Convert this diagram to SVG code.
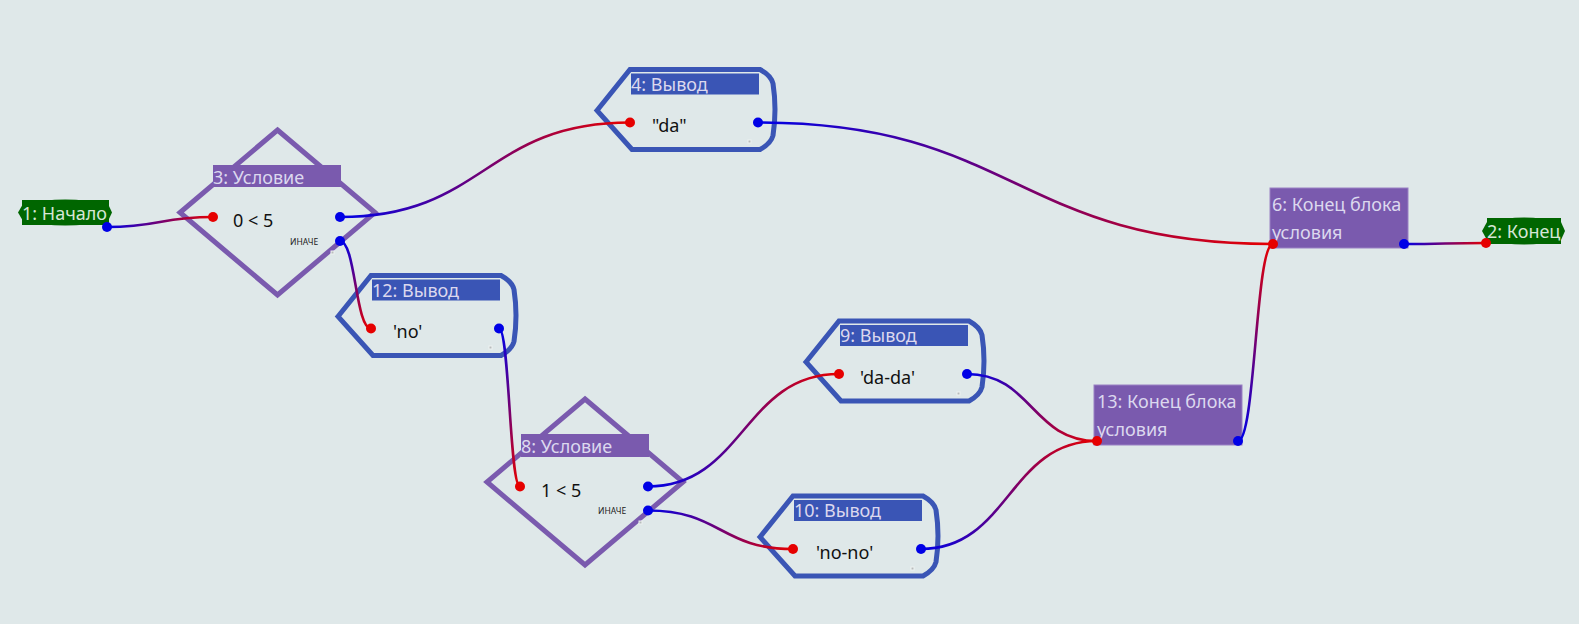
<svg xmlns="http://www.w3.org/2000/svg" width="1579" height="624" viewBox="0 0 1579 624">
<style>
.bg{fill:#dfe8e9}
.term{fill:#006600}
.termt{fill:#d6e6d6;font-family:"Noto Sans","Open Sans",sans-serif;font-size:18px}
.dia{fill:none;stroke:#7a5aae;stroke-width:5}
.ph{fill:#7a5aae}
.out{fill:none;stroke:#3a55b5;stroke-width:5;stroke-linejoin:miter}
.oh{fill:#3a55b5}
.ht{fill:#dcd8ee;font-family:"Noto Sans","Open Sans",sans-serif;font-size:18px}
.vt{fill:#111;font-family:"Noto Sans","Open Sans",sans-serif;font-size:18px}
.et{fill:#222;font-family:"Noto Sans","Open Sans",sans-serif;font-size:8.5px}
.end{fill:#7a5aae;stroke:#9a80c4;stroke-width:1}
.h{fill:#b8bcbc;stroke:#eef2f2;stroke-width:1}
.c{fill:none;stroke-width:2.6}
.pi{fill:#e60000}
.po{fill:#0000e6}
</style>
<defs>
<linearGradient id="g1" gradientUnits="userSpaceOnUse" x1="107" y1="227" x2="213" y2="217"><stop offset="0" stop-color="#0000e6"/><stop offset="1" stop-color="#e60000"/></linearGradient>
<linearGradient id="g2" gradientUnits="userSpaceOnUse" x1="340" y1="217" x2="630" y2="122.5"><stop offset="0" stop-color="#0000e6"/><stop offset="1" stop-color="#e60000"/></linearGradient>
<linearGradient id="g3" gradientUnits="userSpaceOnUse" x1="340" y1="241" x2="371" y2="328.5"><stop offset="0" stop-color="#0000e6"/><stop offset="1" stop-color="#e60000"/></linearGradient>
<linearGradient id="g4" gradientUnits="userSpaceOnUse" x1="499" y1="328.5" x2="520" y2="486.5"><stop offset="0" stop-color="#0000e6"/><stop offset="1" stop-color="#e60000"/></linearGradient>
<linearGradient id="g5" gradientUnits="userSpaceOnUse" x1="648" y1="486.5" x2="839" y2="374"><stop offset="0" stop-color="#0000e6"/><stop offset="1" stop-color="#e60000"/></linearGradient>
<linearGradient id="g6" gradientUnits="userSpaceOnUse" x1="648" y1="510.5" x2="793" y2="549"><stop offset="0" stop-color="#0000e6"/><stop offset="1" stop-color="#e60000"/></linearGradient>
<linearGradient id="g7" gradientUnits="userSpaceOnUse" x1="758" y1="122.5" x2="1273" y2="244"><stop offset="0" stop-color="#0000e6"/><stop offset="1" stop-color="#e60000"/></linearGradient>
<linearGradient id="g8" gradientUnits="userSpaceOnUse" x1="967" y1="374" x2="1097" y2="441"><stop offset="0" stop-color="#0000e6"/><stop offset="1" stop-color="#e60000"/></linearGradient>
<linearGradient id="g9" gradientUnits="userSpaceOnUse" x1="921" y1="549" x2="1097" y2="441"><stop offset="0" stop-color="#0000e6"/><stop offset="1" stop-color="#e60000"/></linearGradient>
<linearGradient id="g10" gradientUnits="userSpaceOnUse" x1="1238" y1="441" x2="1273" y2="244"><stop offset="0" stop-color="#0000e6"/><stop offset="1" stop-color="#e60000"/></linearGradient>
<linearGradient id="g11" gradientUnits="userSpaceOnUse" x1="1404" y1="244" x2="1486" y2="243"><stop offset="0" stop-color="#0000e6"/><stop offset="1" stop-color="#e60000"/></linearGradient>
</defs>
<rect class="bg" x="0" y="0" width="1579" height="624"/>

<g id="node1">
<path class="term" d="M18,212.5 L23,204 Q65,195 108,204 L112,212.5 L108,221 Q65,230 23,221 Z"/>
<rect class="term" x="22" y="200" width="87" height="25"/>
<text class="termt" x="22" y="219.5">1: Начало</text>
</g>

<g id="node2">
<path class="term" d="M1482,231 L1487,222 Q1524,213 1561,222 L1565,231 L1561,240 Q1524,249 1487,240 Z"/>
<rect class="term" x="1487" y="218" width="74" height="26"/>
<text class="termt" x="1487" y="238">2: Конец</text>
</g>

<g id="node3">
<polygon class="dia" points="277.5,130 375,212.5 277.5,295 180,212.5"/>
<rect class="ph" x="213" y="165" width="128" height="22"/>
<text class="ht" x="213" y="184">3: Условие</text>
<text class="vt" x="233" y="227">0 &lt; 5</text>
<text class="et" x="290" y="245">ИНАЧЕ</text>
<rect class="h" x="331" y="251" width="3" height="3"/>
</g>

<g id="node8">
<polygon class="dia" points="585,399 683,482 585,565 487,482"/>
<rect class="ph" x="521" y="434" width="128" height="23"/>
<text class="ht" x="521" y="453">8: Условие</text>
<text class="vt" x="541" y="497">1 &lt; 5</text>
<text class="et" x="598" y="514">ИНАЧЕ</text>
<rect class="h" x="639" y="521" width="3" height="3"/>
</g>

<g id="node4">
<path class="out" d="M597,110.5 L630,69.5 L760,69.5 Q771,75.5 773,83.5 Q777,109.5 773,135.5 Q771,143.5 760,149.5 L632,149.5 Z"/>
<rect class="oh" x="631" y="73.5" width="128" height="21"/>
<text class="ht" x="631" y="90.5">4: Вывод</text>
<text class="vt" x="652" y="132">"da"</text>
<rect class="h" x="748" y="140" width="3" height="3"/>
</g>

<g id="node12">
<path class="out" d="M338,316.5 L371,275.5 L501,275.5 Q512,281.5 514,289.5 Q518,315.5 514,341.5 Q512,349.5 501,355.5 L373,355.5 Z"/>
<rect class="oh" x="372" y="279.5" width="128" height="21"/>
<text class="ht" x="372" y="296.5">12: Вывод</text>
<text class="vt" x="393" y="338">'no'</text>
<rect class="h" x="489" y="346" width="3" height="3"/>
</g>

<g id="node9">
<path class="out" d="M806,362 L839,321 L969,321 Q980,327 982,335 Q986,361 982,387 Q980,395 969,401 L841,401 Z"/>
<rect class="oh" x="840" y="325" width="128" height="21"/>
<text class="ht" x="840" y="342">9: Вывод</text>
<text class="vt" x="860" y="384">'da-da'</text>
<rect class="h" x="957" y="392" width="3" height="3"/>
</g>

<g id="node10">
<path class="out" d="M760,537 L793,496 L923,496 Q934,502 936,510 Q940,536 936,562 Q934,570 923,576 L795,576 Z"/>
<rect class="oh" x="794" y="500" width="128" height="21"/>
<text class="ht" x="794" y="517">10: Вывод</text>
<text class="vt" x="816" y="559">'no-no'</text>
<rect class="h" x="911" y="567" width="3" height="3"/>
</g>

<g id="node6">
<rect class="end" x="1270" y="188" width="138" height="60"/>
<text class="ht" x="1272" y="211">6: Конец блока</text>
<text class="ht" x="1272" y="238.5">условия</text>
</g>

<g id="node13">
<rect class="end" x="1094" y="385" width="148" height="60"/>
<text class="ht" x="1097" y="407.5">13: Конец блока</text>
<text class="ht" x="1097" y="435.5">условия</text>
</g>

<g id="connectors">
<path class="c" stroke="url(#g1)" d="M107,227 C160,227 160,217 213,217"/>
<path class="c" stroke="url(#g2)" d="M340,217 C485,217 485,122.5 630,122.5"/>
<path class="c" stroke="url(#g3)" d="M340,241 C355.5,241 355.5,328.5 371,328.5"/>
<path class="c" stroke="url(#g4)" d="M499,328.5 C509.5,328.5 509.5,486.5 520,486.5"/>
<path class="c" stroke="url(#g5)" d="M648,486.5 C743.5,486.5 743.5,374 839,374"/>
<path class="c" stroke="url(#g6)" d="M648,510.5 C720.5,510.5 720.5,549 793,549"/>
<path class="c" stroke="url(#g7)" d="M758,122.5 C1015.5,122.5 1015.5,244 1273,244"/>
<path class="c" stroke="url(#g8)" d="M967,374 C1032,374 1032,441 1097,441"/>
<path class="c" stroke="url(#g9)" d="M921,549 C1009,549 1009,441 1097,441"/>
<path class="c" stroke="url(#g10)" d="M1238,441 C1255.5,441 1255.5,244 1273,244"/>
<path class="c" stroke="url(#g11)" d="M1404,244 C1445,244 1445,243 1486,243"/>
</g>

<g id="ports">
<circle class="po" cx="107" cy="227" r="5"/>
<circle class="pi" cx="213" cy="217" r="5"/>
<circle class="po" cx="340" cy="217" r="5"/>
<circle class="po" cx="340" cy="241" r="5"/>
<circle class="pi" cx="630" cy="122.5" r="5"/>
<circle class="po" cx="758" cy="122.5" r="5"/>
<circle class="pi" cx="371" cy="328.5" r="5"/>
<circle class="po" cx="499" cy="328.5" r="5"/>
<circle class="pi" cx="520" cy="486.5" r="5"/>
<circle class="po" cx="648" cy="486.5" r="5"/>
<circle class="po" cx="648" cy="510.5" r="5"/>
<circle class="pi" cx="839" cy="374" r="5"/>
<circle class="po" cx="967" cy="374" r="5"/>
<circle class="pi" cx="793" cy="549" r="5"/>
<circle class="po" cx="921" cy="549" r="5"/>
<circle class="pi" cx="1097" cy="441" r="5"/>
<circle class="po" cx="1238" cy="441" r="5"/>
<circle class="pi" cx="1273" cy="244" r="5"/>
<circle class="po" cx="1404" cy="244" r="5"/>
<circle class="pi" cx="1486" cy="243" r="5"/>
</g>
</svg>
